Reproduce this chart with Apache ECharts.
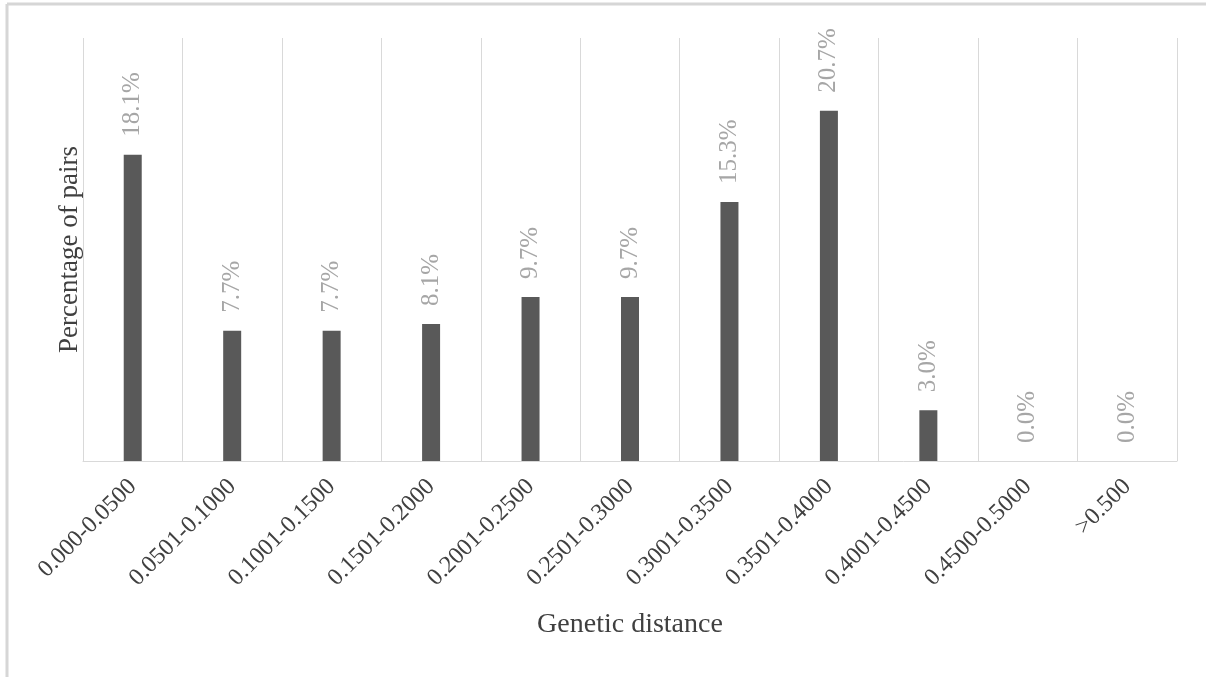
<!DOCTYPE html>
<html>
<head>
<meta charset="utf-8">
<script src="https://cdn.jsdelivr.net/npm/echarts@6/dist/echarts.min.js"></script>
<style>html,body{margin:0;padding:0;background:#fff;}#c{width:1206px;height:677px;}</style>
</head>
<body>
<div id="c"></div>
<script>
const categories = ['0.000-0.0500','0.0501-0.1000','0.1001-0.1500','0.1501-0.2000','0.2001-0.2500','0.2501-0.3000','0.3001-0.3500','0.3501-0.4000','0.4001-0.4500','0.4500-0.5000','>0.500'];
const percentages = [18.1, 7.7, 7.7, 8.1, 9.7, 9.7, 15.3, 20.7, 3.0, 0.0, 0.0];
const xAxisName = 'Genetic distance';
const yAxisName = 'Percentage of pairs';

const chart = echarts.init(document.getElementById('c'), null, {renderer: 'canvas'});
const serif = '"Liberation Serif", "DejaVu Serif", serif';
chart.setOption({
  animation: false,
  backgroundColor: '#ffffff',
  graphic: [
    {type: 'line', shape: {x1: 7, y1: 4, x2: 1206, y2: 4}, style: {stroke: '#d6d6d6', lineWidth: 3}},
    {type: 'line', shape: {x1: 7, y1: 4, x2: 7, y2: 677}, style: {stroke: '#d6d6d6', lineWidth: 3}}
  ],
  grid: {left: 83, right: 29, top: 38, bottom: 216, containLabel: false},
  xAxis: {
    type: 'category',
    data: categories,
    boundaryGap: true,
    name: xAxisName,
    nameLocation: 'middle',
    nameGap: 150,
    nameTextStyle: {fontFamily: serif, fontSize: 28, color: '#404040'},
    axisLine: {show: true, lineStyle: {color: '#d9d9d9', width: 1}},
    axisTick: {show: false},
    splitLine: {show: true, lineStyle: {color: '#d9d9d9', width: 1}},
    axisLabel: {rotate: 45, fontFamily: serif, fontSize: 24, color: '#404040', margin: 22, interval: 0}
  },
  yAxis: {
    type: 'value',
    min: 0,
    max: 25,
    name: yAxisName,
    nameLocation: 'middle',
    nameGap: 0,
    nameTextStyle: {fontFamily: serif, fontSize: 27, color: '#404040'},
    axisLine: {show: false},
    axisTick: {show: false},
    axisLabel: {show: false},
    splitLine: {show: false}
  },
  series: [{
    type: 'bar',
    data: percentages,
    barWidth: 18,
    itemStyle: {color: '#595959'},
    label: {
      show: true,
      position: 'top',
      rotate: 90,
      align: 'left',
      verticalAlign: 'middle',
      distance: 18,
      fontFamily: serif,
      fontSize: 25,
      color: '#a6a6a6',
      formatter: p => p.value.toFixed(1) + '%'
    }
  }]
});
</script>
</body>
</html>
